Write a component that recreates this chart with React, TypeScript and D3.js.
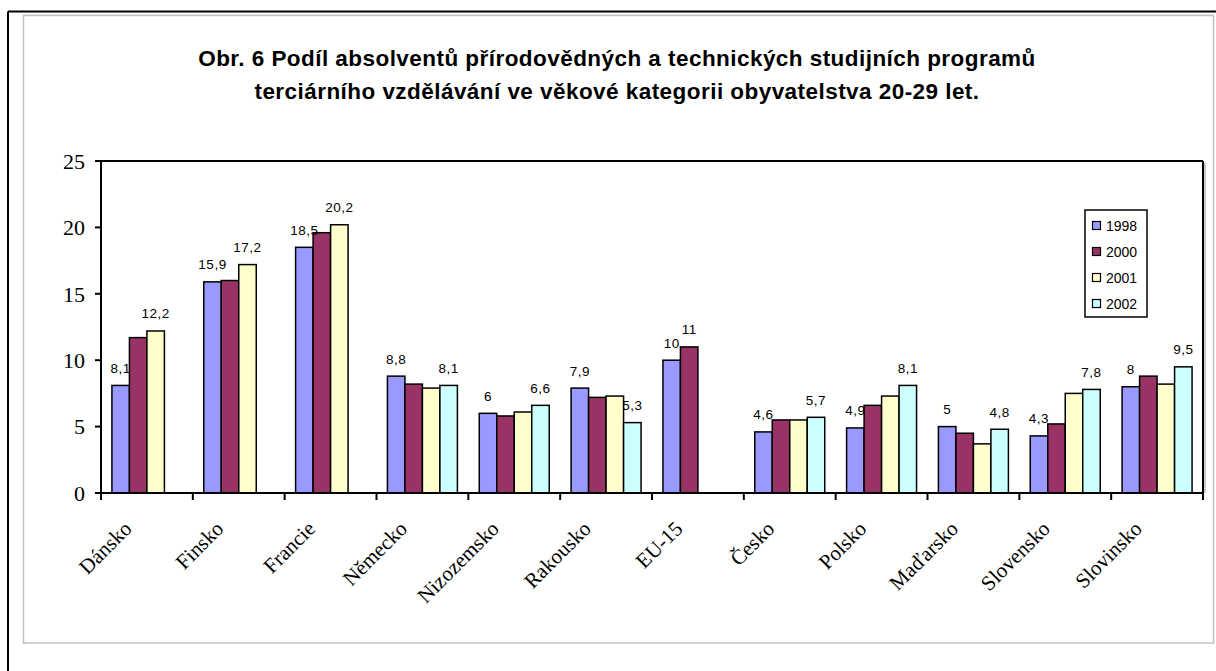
import * as d3 from 'd3';

const categories = ['Dánsko', 'Finsko', 'Francie', 'Německo', 'Nizozemsko', 'Rakousko', 'EU-15', 'Česko', 'Polsko', 'Maďarsko', 'Slovensko', 'Slovinsko'];
const years = ['1998', '2000', '2001', '2002'];

// null = bez údaje
const v1998 = [8.1, 15.9, 18.5, 8.8, 6, 7.9, 10, 4.6, 4.9, 5, 4.3, 8];
const v2000 = [11.7, 16.0, 19.6, 8.2, 5.8, 7.2, 11, 5.5, 6.6, 4.5, 5.2, 8.8];
const v2001 = [12.2, 17.2, 20.2, 7.9, 6.1, 7.3, null, 5.5, 7.3, 3.7, 7.5, 8.2];
const v2002 = [null, null, null, 8.1, 6.6, 5.3, null, 5.7, 8.1, 4.8, 7.8, 9.5];
const yTicks = [0, 5, 10, 15, 20, 25];

const titleLines = [
  'Obr. 6 Podíl absolventů přírodovědných a technických studijních programů',
  'terciárního vzdělávání ve věkové kategorii obyvatelstva 20-29 let.',
];

const colors = ['#9999FF', '#993366', '#FFFFCC', '#CCFFFF'];

const W = 1216;
const H = 671;
const plot = { left: 101, right: 1203, top: 161, bottom: 493 };

const fmt = (v: number) => String(v).replace('.', ',');

export default function App() {
  const series = [v1998, v2000, v2001, v2002];

  const x = d3.scaleBand<string>()
    .domain(categories)
    .range([plot.left, plot.right])
    .paddingInner(0.238)
    .paddingOuter(0.119);

  const xs = d3.scaleBand<string>()
    .domain(years)
    .range([0, x.bandwidth()]);

  const y = d3.scaleLinear().domain([0, 25]).range([plot.bottom, plot.top]);

  const step = x.step();
  const sans = 'Arial, "Liberation Sans", sans-serif';
  const serif = '"Times New Roman", "Liberation Serif", serif';

  // popisky jen u prvního a posledního sloupce v každé skupině
  const labels: { x: number; y: number; t: string }[] = [];
  categories.forEach((c, i) => {
    const present = years.map((_, s) => s).filter(s => series[s][i] != null);
    const pick = [present[0], present[present.length - 1]];
    pick.forEach(s => {
      const v = series[s][i] as number;
      labels.push({ x: (x(c) as number) + (xs(years[s]) as number) + xs.bandwidth() / 2, y: y(v) - 12.5, t: fmt(v) });
    });
  });

  return (
    <svg width={W} height={H} style={{ position: 'absolute', left: 0, top: 0, background: '#fff' }}>
      {/* okraje */}
      <line x1={8} x2={W} y1={11.5} y2={11.5} stroke="#000" strokeWidth={2} />
      <line x1={8} x2={8} y1={11.5} y2={H} stroke="#000" strokeWidth={2} />
      <rect x={23.5} y={15.5} width={1190} height={627.5} fill="#fff" stroke="#c0c0c0" strokeWidth={1.5} />

      {/* titulek */}
      {titleLines.map((t, i) => (
        <text key={i} x={617} y={66 + i * 33} textAnchor="middle" fontFamily={sans} fontWeight="bold" fontSize={22.5} letterSpacing={0.45}>
          {t}
        </text>
      ))}

      {/* rámeček grafu */}
      <line x1={plot.left} x2={plot.right} y1={plot.top} y2={plot.top} stroke="#000" strokeWidth={2} />
      <line x1={plot.right + 2} x2={plot.right + 2} y1={plot.top + 2} y2={plot.bottom} stroke="#bbb" strokeWidth={1.5} />
      <line x1={plot.right} x2={plot.right} y1={plot.top} y2={plot.bottom} stroke="#000" strokeWidth={2} />

      {/* sloupce */}
      {series.map((vals, s) => (
        <g key={s}>
          {vals.map((v, i) => v == null ? null : (
            <rect
              key={i}
              x={(x(categories[i]) as number) + (xs(years[s]) as number)}
              y={y(v)}
              width={xs.bandwidth()}
              height={plot.bottom - y(v)}
              fill={colors[s]}
              stroke="#000"
              strokeWidth={1.5}
            />
          ))}
        </g>
      ))}

      {/* popisky hodnot */}
      {labels.map((l, i) => (
        <text key={i} x={l.x} y={l.y} textAnchor="middle" fontFamily={sans} fontSize={13.5} letterSpacing={0.5}>{l.t}</text>
      ))}

      {/* osa Y */}
      <line x1={plot.left} x2={plot.left} y1={plot.top} y2={plot.bottom} stroke="#000" strokeWidth={2} />
      {yTicks.map(t => (
        <g key={t}>
          <line x1={plot.left - 6} x2={plot.left} y1={y(t)} y2={y(t)} stroke="#000" strokeWidth={2} />
          <text x={85} y={y(t)} dy="0.35em" textAnchor="end" fontFamily={serif} fontSize={22}>{t}</text>
        </g>
      ))}

      {/* osa X */}
      <line x1={plot.left - 6} x2={plot.right} y1={plot.bottom} y2={plot.bottom} stroke="#000" strokeWidth={2} />
      {d3.range(categories.length + 1).map(i => (
        <line key={i} x1={plot.left + i * step} x2={plot.left + i * step} y1={plot.bottom} y2={plot.bottom + 7} stroke="#000" strokeWidth={2} />
      ))}
      {categories.map(c => {
        const cx = (x(c) as number) + x.bandwidth() / 2 - 14;
        const cy = plot.bottom + 37;
        return (
          <text key={c} x={cx} y={cy} transform={`rotate(-45, ${cx}, ${cy})`} textAnchor="end" fontFamily={serif} fontSize={21}>
            {c}
          </text>
        );
      })}

      {/* legenda */}
      <rect x={1085} y={210} width={62} height={107} fill="#fff" stroke="#000" strokeWidth={1.5} />
      {years.map((yr, i) => (
        <g key={yr} transform={`translate(1092, ${226 + i * 26})`}>
          <rect x={0.5} y={-4.5} width={8} height={8} fill={colors[i]} stroke="#000" strokeWidth={1.2} />
          <text x={14} y={5} fontFamily={sans} fontSize={14}>{yr}</text>
        </g>
      ))}
    </svg>
  );
}
